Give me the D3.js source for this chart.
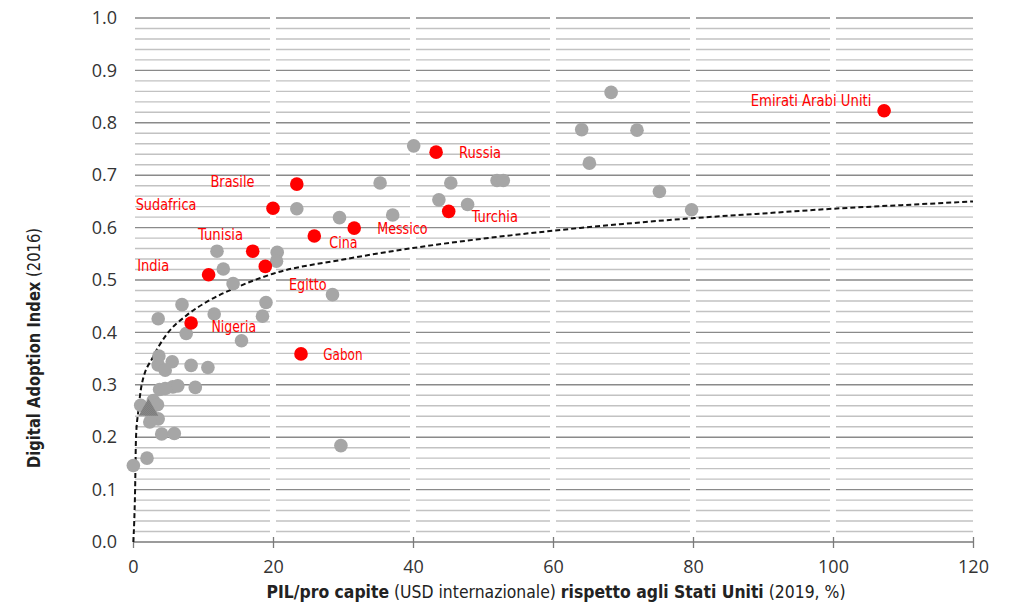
<!DOCTYPE html>
<html><head><meta charset="utf-8">
<script src="https://cdn.jsdelivr.net/npm/d3@7"></script>
<style>body{margin:0;background:#fff}svg{display:block}</style></head>
<body><svg id="c" width="1024" height="607"></svg>
<script>
// ---- data ----
const xTicks = [0, 20, 40, 60, 80, 100, 120];
const yTicks = [0, 0.1, 0.2, 0.3, 0.4, 0.5, 0.6, 0.7, 0.8, 0.9, 1.0];
const yMinor = [0.02,0.04,0.06,0.08,0.12,0.14,0.16,0.18,0.22,0.24,0.26,0.28,0.32,0.34,0.36,0.38,0.42,0.44,0.46,0.48,0.52,0.54,0.56,0.58,0.62,0.64,0.66,0.68,0.72,0.74,0.76,0.78,0.82,0.84,0.86,0.88,0.92,0.94,0.96,0.98];

const highlightNames = ["Emirati Arabi Uniti","Russia","Turchia","Messico","Cina","Brasile","Sudafrica","Tunisia","Egitto","India","Nigeria","Gabon"];
const highlightX = [107.3, 43.3, 45.1, 31.6, 25.9, 23.4, 20.0, 17.1, 18.9, 10.8, 8.3, 24.0];
const highlightY = [0.823, 0.744, 0.631, 0.599, 0.584, 0.683, 0.637, 0.555, 0.526, 0.510, 0.418, 0.359];

const otherX = [68.3,64.1,72.0,65.2,75.2,79.8,40.1,35.3,45.4,52.0,52.9,43.7,47.8,37.1,23.4,29.5,12.0,20.6,20.5,12.9,14.3,28.5,7.0,19.0,3.6,11.6,18.5,7.6,15.5,3.7,5.6,3.6,4.6,8.3,10.7,3.8,4.6,5.7,6.4,8.9,1.1,2.9,3.5,2.5,3.6,2.4,4.1,5.9,2.0,0.05,29.7];
const otherY = [0.858,0.787,0.786,0.723,0.669,0.634,0.756,0.685,0.685,0.690,0.690,0.653,0.644,0.624,0.636,0.619,0.555,0.553,0.536,0.521,0.493,0.472,0.453,0.457,0.426,0.435,0.431,0.398,0.384,0.355,0.344,0.338,0.328,0.337,0.333,0.291,0.293,0.296,0.298,0.295,0.261,0.270,0.262,0.248,0.235,0.229,0.206,0.207,0.160,0.146,0.184];

const avgX = [2.2];
const avgY = [0.252];

const trendX = [0.05, 0.3, 0.43, 0.76, 1.24, 2.9, 4.8, 7.7, 10.5, 15, 20, 30, 40, 50, 60, 70, 80, 90, 100, 110, 120];
const trendY = [0.0, 0.1, 0.2, 0.25, 0.3, 0.354, 0.396, 0.433, 0.458, 0.487, 0.512, 0.539, 0.561, 0.579, 0.594, 0.607, 0.618, 0.627, 0.636, 0.643, 0.650];

// ---- layout ----
const svg = d3.select("#c");
const x = d3.scaleLinear().domain([0, 120]).range([133, 973]);
const y = d3.scaleLinear().domain([0, 1]).range([542, 18]);
const tickFont = "'Open Sans', 'DejaVu Sans', sans-serif";
const condFont = "'Liberation Sans Narrow', 'DejaVu Sans Condensed', 'Roboto', 'Liberation Sans', sans-serif";

// dotted pattern for the average triangle
const defs = svg.append("defs");
const pat = defs.append("pattern").attr("id", "dots").attr("width", 2).attr("height", 2).attr("patternUnits", "userSpaceOnUse");
pat.append("rect").attr("width", 2).attr("height", 2).attr("fill", "#9a9a9a");
pat.append("rect").attr("width", 1).attr("height", 1).attr("fill", "#6a6a6a");
pat.append("rect").attr("x", 1).attr("y", 1).attr("width", 1).attr("height", 1).attr("fill", "#6a6a6a");

// gridline segments with white gaps at each x tick
const segs = [];
for (let i = 0; i < xTicks.length - 1; i++) {
  const a = x(xTicks[i]) + (i === 0 ? 2 : 3);
  const b = x(xTicks[i + 1]) - (i === xTicks.length - 2 ? 0 : 3);
  segs.push([a, b]);
}
const grid = svg.append("g");
function drawLines(vals, color, w) {
  vals.forEach(v => {
    segs.forEach(s => {
      grid.append("line").attr("x1", s[0]).attr("x2", s[1])
        .attr("y1", y(v)).attr("y2", y(v))
        .attr("stroke", color).attr("stroke-width", w);
    });
  });
}
drawLines(yMinor, "#c2c2c2", 1.4);
drawLines(yTicks.filter(v => v > 0), "#8a8a8a", 1.4);

// x axis
const xAxis = svg.append("g").attr("transform", `translate(0,${y(0)})`)
  .call(d3.axisBottom(x).tickValues(xTicks).tickSize(6).tickPadding(12).tickFormat(d3.format("d")));
xAxis.select(".domain").attr("stroke", "#7a7a7a").attr("stroke-width", 1.5).attr("d", `M${x(0)},0H${x(120)}`);
xAxis.selectAll(".tick line").attr("stroke", "#7a7a7a").attr("stroke-width", 1.3).attr("y1", -5).attr("y2", 6);
xAxis.selectAll(".tick text").attr("font-family", tickFont).attr("font-size", 18).attr("fill", "#333");

// y axis labels
const yAxis = svg.append("g").attr("transform", `translate(${x(0)},0)`)
  .call(d3.axisLeft(y).tickValues(yTicks).tickSize(0).tickPadding(16).tickFormat(d3.format(".1f")));
yAxis.select(".domain").remove();
yAxis.selectAll(".tick text").attr("font-family", tickFont).attr("font-size", 18).attr("fill", "#333");

// trend line
const line = d3.line().x((d, i) => x(trendX[i])).y((d, i) => y(trendY[i])).curve(d3.curveMonotoneX);
svg.append("path").datum(trendX).attr("d", line)
  .attr("fill", "none").attr("stroke", "#111").attr("stroke-width", 2).attr("stroke-dasharray", "5,3");

// gray points
svg.append("g").selectAll("circle").data(otherX).join("circle")
  .attr("cx", (d) => x(d)).attr("cy", (d, i) => y(otherY[i])).attr("r", 6.8).attr("fill", "#a6a6a6");

// average triangle
svg.append("g").selectAll("path").data(avgX).join("path")
  .attr("d", d3.symbol().type(d3.symbolTriangle).size(170))
  .attr("transform", (d, i) => `translate(${x(d)},${y(avgY[i])})`)
  .attr("fill", "url(#dots)");

// highlighted points
svg.append("g").selectAll("circle").data(highlightX).join("circle")
  .attr("cx", d => x(d)).attr("cy", (d, i) => y(highlightY[i])).attr("r", 6.8).attr("fill", "#ff0000");

// labels: [dx, dy, anchor, width]
const labelLayout = {
  "Emirati Arabi Uniti": [-12.7, -4.5, "end", 120.7],
  "Russia": [23, 6, "start", 42],
  "Turchia": [23, 11, "start", 46.3],
  "Messico": [23, 6, "start", 50.3],
  "Cina": [15, 12, "start", 28.3],
  "Brasile": [-42.3, 3, "end", 44],
  "Sudafrica": [-76.6, 2, "end", 60.7],
  "Tunisia": [-9.6, -11.5, "end", 45],
  "Egitto": [23.7, 24, "start", 37.7],
  "India": [-39.4, -3.7, "end", 32],
  "Nigeria": [20.3, 9, "start", 44.7],
  "Gabon": [22.3, 6, "start", 39.3]
};
svg.append("g").selectAll("text").data(highlightNames).join("text")
  .attr("x", (d, i) => x(highlightX[i]) + labelLayout[d][0])
  .attr("y", (d, i) => y(highlightY[i]) + labelLayout[d][1])
  .attr("text-anchor", d => labelLayout[d][2])
  .attr("textLength", d => labelLayout[d][3])
  .attr("lengthAdjust", "spacingAndGlyphs")
  .attr("font-family", condFont).attr("font-size", 16).attr("fill", "#ff0000")
  .text(d => d);

// axis titles
const xt = svg.append("text").attr("x", 556).attr("y", 598).attr("text-anchor", "middle")
  .attr("font-family", condFont).attr("font-size", 18).attr("fill", "#222")
  .attr("textLength", 579).attr("lengthAdjust", "spacingAndGlyphs");
xt.append("tspan").attr("font-weight", "bold").text("PIL/pro capite");
xt.append("tspan").text(" (USD internazionale) ");
xt.append("tspan").attr("font-weight", "bold").text("rispetto agli Stati Uniti");
xt.append("tspan").text(" (2019, %)");

const yt = svg.append("text").attr("transform", "translate(40,348) rotate(-90)").attr("text-anchor", "middle")
  .attr("font-family", condFont).attr("font-size", 18).attr("fill", "#222")
  .attr("textLength", 240).attr("lengthAdjust", "spacingAndGlyphs");
yt.append("tspan").attr("font-weight", "bold").text("Digital Adoption Index");
yt.append("tspan").text(" (2016)");
</script>
</body></html>
